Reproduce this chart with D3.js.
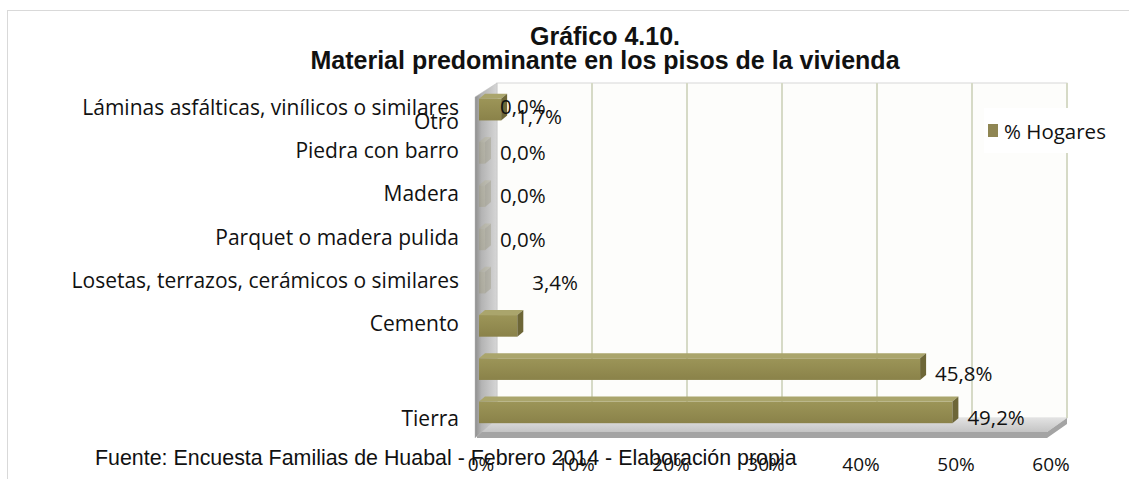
<!DOCTYPE html>
<html>
<head>
    <meta charset="UTF-8" />
    <title>Gráfico 4.10</title>
    <script src="https://d3js.org/d3.v7.min.js"></script>
    <style>
        body { margin: 0; background: white; overflow: hidden; }
        .cat, .val, .tick, .legend { font-family: "Open Sans", sans-serif; fill: #111; }
        .title { font-family: "Liberation Sans", Arial, sans-serif; font-weight: bold; font-size: 25px; fill: #111; }
        .source { font-family: "Liberation Sans", Arial, sans-serif; font-size: 21.4px; fill: #111; }
        .grid { stroke: #d6dac6; stroke-width: 2px; }
    </style>
</head>
<body>
<svg id="chart" width="1129" height="479"></svg>
<script>
    // data (bottom to top, as drawn)
    const categories = ["Tierra", "", "Cemento", "Losetas, terrazos, cerámicos o similares",
        "Parquet o madera pulida", "Madera", "Piedra con barro",
        "Láminas asfálticas, vinílicos o similares", "Otro"];
    const values = [49.2, 45.8, 3.4, 0.0, 0.0, 0.0, 0.0, 1.7];
    const ticks = [0, 10, 20, 30, 40, 50, 60];
    const seriesName = "% Hogares";
    const titleLines = ["Gráfico 4.10.", "Material predominante en los pisos de la vivienda"];
    const source = "Fuente: Encuesta Familias de Huabal - Febrero 2014 - Elaboración propia";

    const svg = d3.select("#chart");
    const es = d3.formatLocale({decimal: ",", thousands: ".", grouping: [3], currency: ["", "€"]});
    const pct = v => es.format(".1f")(v) + "%";

    // 3d box
    const DX = 20, DY = 14;     // wall depth
    const BDX = 6, BDY = 5;     // bar depth
    const x = d3.scaleLinear().domain([0, 60]).range([497, 1067]);   // back wall
    const xf = v => x(v) - DX;                                       // front of floor
    const xb = v => x(v) - 12;                                       // bar front faces
    const wallTop = 83, floorBack = 418;
    const nSlots = 8;
    const y = d3.scaleBand().domain(d3.range(nSlots)).range([434, 88])
        .paddingInner(0.5).paddingOuter(0.25);
    const slotMid = i => y(Math.min(i, nSlots - 1)) + y.bandwidth() / 2;

    const defs = svg.append("defs");
    const g1 = defs.append("linearGradient").attr("id", "wallGrad").attr("x1", 0).attr("x2", 1).attr("y1", 0).attr("y2", 0);
    g1.append("stop").attr("offset", "0%").attr("stop-color", "#8e8e8e");
    g1.append("stop").attr("offset", "30%").attr("stop-color", "#b4b4b4");
    g1.append("stop").attr("offset", "100%").attr("stop-color", "#d6d6d6");
    const g2 = defs.append("linearGradient").attr("id", "floorGrad").attr("x1", 0).attr("x2", 0).attr("y1", 0).attr("y2", 1);
    g2.append("stop").attr("offset", "0%").attr("stop-color", "#e2e2e2");
    g2.append("stop").attr("offset", "100%").attr("stop-color", "#c4c4c4");
    const g3 = defs.append("linearGradient").attr("id", "barGrad").attr("x1", 0).attr("x2", 0).attr("y1", 0).attr("y2", 1);
    g3.append("stop").attr("offset", "0%").attr("stop-color", "#9c9558");
    g3.append("stop").attr("offset", "100%").attr("stop-color", "#8a8249");

    // outer frame
    svg.append("rect").attr("x", 7.5).attr("y", 10.5).attr("width", 1140).attr("height", 500)
        .attr("fill", "white").attr("stroke", "#d9d9d9");

    // back wall
    svg.append("rect").attr("x", x(0)).attr("y", wallTop).attr("width", x(60) - x(0)).attr("height", floorBack - wallTop)
        .attr("fill", "#fdfdfb").attr("stroke", "#d8d8d8");
    svg.selectAll("line.grid").data(ticks.slice(1)).join("line")
        .attr("class", "grid")
        .attr("x1", d => x(d)).attr("x2", d => x(d))
        .attr("y1", wallTop).attr("y2", floorBack);

    // floor
    svg.append("path")
        .attr("d", `M${xf(0)},${floorBack + DY}L${xf(60)},${floorBack + DY}L${x(60)},${floorBack}L${x(0)},${floorBack}Z`)
        .attr("fill", "url(#floorGrad)");
    svg.append("path")
        .attr("d", `M${xf(0)},${floorBack + DY}L${xf(60)},${floorBack + DY}L${x(60)},${floorBack}L${x(60)},${floorBack + 6}L${xf(60)},${floorBack + DY + 6}L${xf(0)},${floorBack + DY + 6}Z`)
        .attr("fill", "#a4a4a4");

    // left wall
    svg.append("path")
        .attr("d", `M${xf(0) - 2},${wallTop + DY}L${x(0)},${wallTop}L${x(0)},${floorBack}L${xf(0) - 2},${floorBack + DY + 6}Z`)
        .attr("fill", "url(#wallGrad)").attr("stroke", "#bdbdbd").attr("stroke-width", 0.5);

    // bars
    const bars = svg.append("g");
    values.forEach((v, i) => {
        const y0 = y(i), h = y.bandwidth();
        const xs = xb(0) - 6, x1 = xb(v);
        const op = v > 0 ? 1 : 0.2;
        const b = bars.append("g").attr("opacity", op);
        b.append("path")
            .attr("d", `M${xs},${y0}L${x1},${y0}L${x1 + BDX},${y0 - BDY}L${xs + BDX},${y0 - BDY}Z`)
            .attr("fill", "#aaa56c");
        b.append("rect").attr("x", xs).attr("y", y0).attr("width", x1 - xs).attr("height", h)
            .attr("fill", "url(#barGrad)");
        b.append("path")
            .attr("d", `M${x1},${y0}L${x1 + BDX},${y0 - BDY}L${x1 + BDX},${y0 + h - BDY}L${x1},${y0 + h}Z`)
            .attr("fill", "#6d6637");
    });

    // value labels (shifted up one slot past Cemento, the last one squeezed on top)
    svg.selectAll("text.val").data(values).join("text")
        .attr("class", "val")
        .attr("font-size", 20.5)
        .attr("x", d => xb(d) + 15)
        .attr("y", (d, i) => {
            if (i < 2) return slotMid(i) + 5;
            const s = i + 1;
            return s >= nSlots ? slotMid(nSlots - 1) + 7 : slotMid(s) - (s === nSlots - 1 ? 3 : 0);
        })
        .attr("dy", "0.35em")
        .text(d => pct(d));

    // category labels
    svg.selectAll("text.cat").data(categories).join("text")
        .attr("class", "cat")
        .attr("font-size", 21)
        .attr("text-anchor", "end")
        .attr("x", 459)
        .attr("y", (d, i) => i === 0 ? slotMid(0) + 6 : (i >= nSlots ? slotMid(nSlots - 1) + 12 : slotMid(i) - 2))
        .attr("dy", "0.35em")
        .text(d => d);

    // legend
    svg.append("rect").attr("x", 984).attr("y", 108).attr("width", 145).attr("height", 45).attr("fill", "white");
    svg.append("rect").attr("x", 988).attr("y", 124).attr("width", 10).attr("height", 13).attr("fill", "#8f8653");
    svg.append("text").attr("class", "legend").attr("font-size", 20.5)
        .attr("x", 1004).attr("y", 139).text(seriesName);

    // title
    svg.selectAll("text.title").data(titleLines).join("text")
        .attr("class", "title")
        .attr("text-anchor", "middle")
        .attr("x", 605)
        .attr("y", (d, i) => 45 + i * 24)
        .text(d => d);

    // source line (drawn under the axis labels)
    svg.append("text").attr("class", "source").attr("x", 95).attr("y", 465).text(source);

    // x tick labels at the front of the floor
    svg.selectAll("text.tick").data(ticks).join("text")
        .attr("class", "tick")
        .attr("font-size", 19)
        .attr("text-anchor", "middle")
        .attr("x", d => xf(d) + 4)
        .attr("y", 471)
        .text(d => d + "%");
</script>
</body>
</html>
